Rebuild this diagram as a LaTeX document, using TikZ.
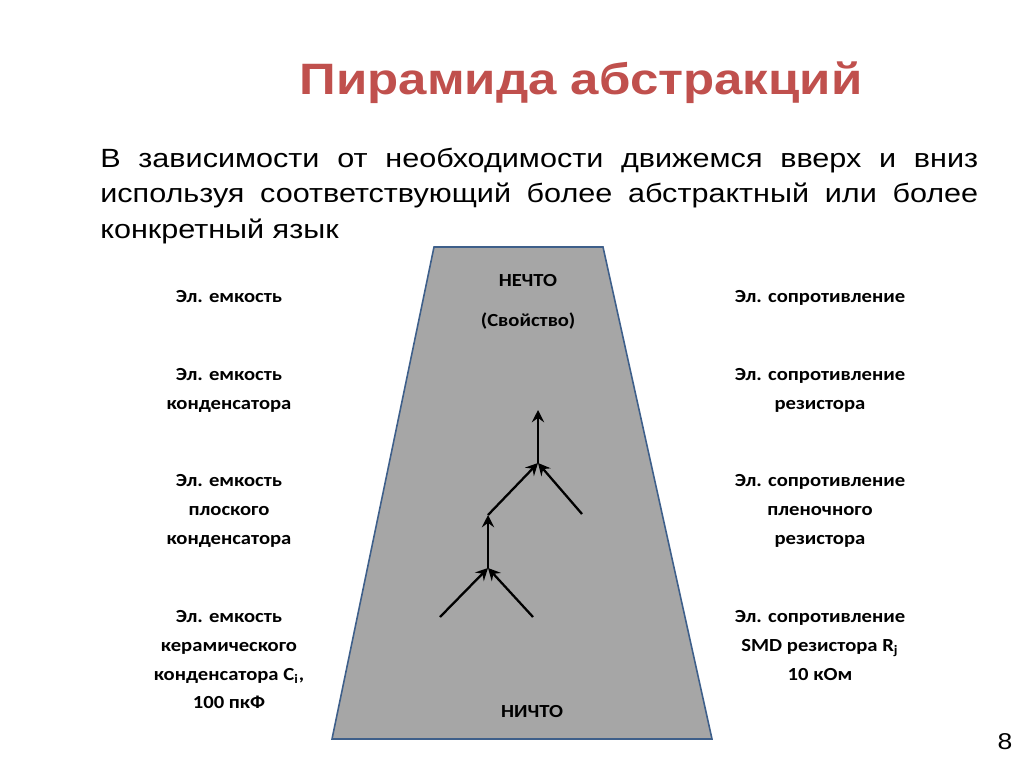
\documentclass[tikz,border=0pt]{standalone}
\usepackage{fontspec}
\setmainfont{Liberation Sans}
\newfontfamily\labelfont{Carlito}
\usepackage{xcolor}
\usepackage{graphicx}
\usetikzlibrary{shapes.geometric, arrows, arrows.meta, calc, positioning}
\definecolor{titlered}{HTML}{C0504D}
\definecolor{pyrgray}{HTML}{A6A6A6}
\definecolor{pyrblue}{HTML}{3E5F8A}
% slide text is a little wider than the font
\newcommand{\stretchx}[1]{\scalebox{1.12}[1]{\begin{tabular}{@{}c@{}}#1\end{tabular}}}
\begin{document}
\begin{tikzpicture}[x=0.02cm, y=-0.02cm, arrow/.style = {line width=1.3pt,-{Stealth[length=7pt,width=7pt,inset=2.5pt]}}]
		\tikzset{lbl/.style={inner sep=0pt,align=center,font=\labelfont\bfseries\fontsize{10.5}{16.4}\selectfont}}
		\useasboundingbox (0,0) rectangle (1024,767);
		\fill[white] (0,0) rectangle (1024,767);

		\node[anchor=base, inner sep=0pt, text=titlered, font=\bfseries\fontsize{25}{30}\selectfont] (title) at (581,94) {\scalebox{1.16}[1]{Пирамида абстракций}};

		\node[anchor=base west, inner sep=0pt, font=\fontsize{15}{20.4}\selectfont] (intro) at (100,167) {\scalebox{1.16}[1]{\parbox[t]{15.138cm}{%
			В зависимости от необходимости движемся вверх и вниз\linebreak используя соответствующий более абстрактный или более\linebreak конкретный язык}}};

		\draw[pyrblue, line width=0.9pt, fill=pyrgray] (434,247) -- (603,247) -- (712,739) -- (332,739) -- cycle;

		\node[lbl] (top) at (528,281) {\stretchx{НЕЧТО}};
		\node[lbl] (prop) at (528,321) {\stretchx{(Свойство)}};
		\node[lbl] (bottom) at (532,712) {\stretchx{НИЧТО}};

		\node[lbl] (c1) at (229,297) {\stretchx{Эл. емкость}};
		\node[lbl] (c2) at (229,389.5) {\stretchx{Эл. емкость\\конденсатора}};
		\node[lbl] (c3) at (229,510) {\stretchx{Эл. емкость\\плоского\\конденсатора}};
		\node[lbl] (c4) at (229,660) {\stretchx{Эл. емкость\\керамического\\конденсатора C\textsubscript{i},\\100 пкФ}};

		\node[lbl] (r1) at (820,297) {\stretchx{Эл. сопротивление}};
		\node[lbl] (r2) at (820,389.5) {\stretchx{Эл. сопротивление\\резистора}};
		\node[lbl] (r3) at (820,510) {\stretchx{Эл. сопротивление\\пленочного\\резистора}};
		\node[lbl] (r4) at (820,646) {\stretchx{Эл. сопротивление\\SMD резистора R\textsubscript{j}\\10 кОм}};

		\node[font=\fontsize{13}{15}\selectfont] (page) at (1005,742) {\scalebox{1.16}[1]{8}};

		\coordinate (apex) at (538,410);
		\coordinate (up) at (538,463);
		\coordinate (mid) at (488,515);
		\coordinate (upr) at (582,514);
		\coordinate (low) at (488,568);
		\coordinate (lowl) at (440,617);
		\coordinate (lowr) at (533,617);

		\draw [arrow] (up) -- (apex);
		\draw [arrow] (mid) -- (up);
		\draw [arrow] (upr) -- (up);
		\draw [arrow] (low) -- (mid);
		\draw [arrow] (lowl) -- (low);
		\draw [arrow] (lowr) -- (low);

	\end{tikzpicture}
\end{document}
